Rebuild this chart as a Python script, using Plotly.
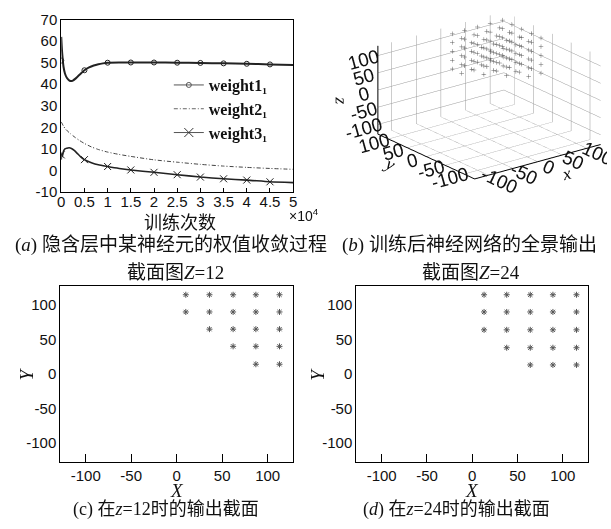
import plotly.graph_objects as go

W, H = 611, 529

# ---------------- data: panel (a) weight convergence ----------------
w1_t = [0, 150, 300, 500, 800, 1200, 1600, 2000, 2500, 3000, 3500, 4000, 5000, 6000, 7000,
        8000, 9000, 10000, 12500, 15000, 20000, 25000, 30000, 35000, 40000, 45000, 50000]
w1_v = [62, 56, 52, 48, 45, 43, 42, 41.5, 41.7, 42.5, 43.5, 44.5, 46.5, 47.8, 48.7,
        49.3, 49.7, 50.0, 50.1, 50.1, 50.1, 50.0, 49.9, 49.7, 49.5, 49.2, 48.9]
w1_mark_t = [0, 5000, 10000, 15000, 20000, 25000, 30000, 35000, 40000, 45000]
w1_mark_v = [51.0, 46.5, 50.0, 50.1, 50.1, 50.0, 49.9, 49.7, 49.5, 49.2]

w2_t = [0, 500, 1000, 2000, 3000, 4000, 5000, 6500, 8000, 10000, 12500, 15000,
        20000, 25000, 30000, 35000, 40000, 45000, 50000]
w2_v = [22.5, 20.5, 19.0, 17.0, 15.3, 13.8, 12.5, 10.9, 9.7, 8.5, 7.4, 6.5,
        4.9, 3.8, 2.8, 2.0, 1.4, 0.9, 0.5]

w3_t = [0, 100, 250, 500, 800, 1200, 1700, 2200, 2800, 3500, 4200, 5000, 6500, 8000,
        10000, 12500, 15000, 20000, 25000, 30000, 35000, 40000, 45000, 50000]
w3_v = [5.0, 8.0, 6.5, 9.0, 10.0, 10.3, 10.5, 10.2, 9.3, 7.8, 6.3, 5.0, 3.6, 2.6,
        1.8, 0.9, 0.2, -0.9, -2.0, -3.1, -3.9, -4.5, -5.3, -5.7]
w3_mark_t = [0, 5000, 10000, 15000, 20000, 25000, 30000, 35000, 40000, 45000]
w3_mark_v = [7.2, 5.0, 1.8, 0.2, -0.9, -2.0, -3.1, -3.9, -4.5, -5.3]

a_xticks = [0, 5000, 10000, 15000, 20000, 25000, 30000, 35000, 40000, 45000, 50000]
a_xlabels = ["0", "0.5", "1", "1.5", "2", "2.5", "3", "3.5", "4", "4.5", "5"]
a_yticks = [-10, 0, 10, 20, 30, 40, 50, 60, 70]
a_ylabels = ["-10", "0", "10", "20", "30", "40", "50", "60", "70"]

# ---------------- data: panel (b) 3-D output ----------------
b_grid = [13, 38, 64, 90, 115]          # x / y grid values
b_rows_y = [115, 90, 64, 38, 13]        # row y values
b_levels = [13, 38, 64, 90, 115]        # z levels
b_row_start = [[0, 0, 1, 2, 3],         # first x-index present in each row, per z level
               [0, 0, 0, 1, 2],
               [0, 0, 0, 0, 1],
               [0, 0, 0, 0, 0],
               [0, 0, 0, 0, 0]]

# ---------------- data: panels (c), (d) cross sections ----------------
c_x = [10, 36, 62, 87, 113, 10, 36, 62, 87, 113, 36, 62, 87, 113, 62, 87, 113, 87, 113]
c_y = [115, 115, 115, 115, 115, 90, 90, 90, 90, 90, 65, 65, 65, 65, 40, 40, 40, 14, 14]
d_x = [13, 38, 64, 89, 115, 13, 38, 64, 89, 115, 13, 38, 64, 89, 115, 38, 64, 89, 115, 64, 89, 115]
d_y = [115, 115, 115, 115, 115, 90, 90, 90, 90, 90, 64, 64, 64, 64, 64, 38, 38, 38, 38, 13, 13, 13]
cd_ticks = [-100, -50, 0, 50, 100]
cd_labels = ["-100", "-50", "0", "50", "100"]

# build 3-D coordinates from the per-level rows
b_x, b_y, b_z = [], [], []
for zi, z in enumerate(b_levels):
    for ri, yv in enumerate(b_rows_y):
        for xv in b_grid[b_row_start[zi][ri]:]:
            b_x.append(xv)
            b_y.append(yv)
            b_z.append(z)

SANS = "Liberation Sans, Arial, sans-serif"
SERIF = "Liberation Serif, Times New Roman, serif"
CAP = "Liberation Serif, Noto Sans CJK SC, serif"
CJK = "Noto Sans CJK SC, sans-serif"
DARK = "#222222"

def fx(p):
    return p / W

def fy(p):
    return 1 - p / H

fig = go.Figure()

# ---- panel (a) ----
fig.add_trace(go.Scatter(x=w1_t, y=w1_v, mode="lines", line=dict(color=DARK, width=2, shape="spline", smoothing=0.6),
                         showlegend=False, xaxis="x", yaxis="y"))
fig.add_trace(go.Scatter(x=w1_mark_t, y=w1_mark_v, mode="markers",
                         marker=dict(symbol="circle-open", size=5, color=DARK, line=dict(width=1)),
                         showlegend=False, xaxis="x", yaxis="y"))
fig.add_trace(go.Scatter(x=w2_t, y=w2_v, mode="lines",
                         line=dict(color="#444444", width=1, dash="4px,2px,1px,2px", shape="spline", smoothing=0.6),
                         showlegend=False, xaxis="x", yaxis="y"))
fig.add_trace(go.Scatter(x=w3_t, y=w3_v, mode="lines", line=dict(color=DARK, width=1.6, shape="spline", smoothing=0.6),
                         showlegend=False, xaxis="x", yaxis="y"))
fig.add_trace(go.Scatter(x=w3_mark_t, y=w3_mark_v, mode="markers",
                         marker=dict(symbol="x-thin-open", size=7, color=DARK, line=dict(width=1, color=DARK)),
                         showlegend=False, xaxis="x", yaxis="y"))
# legend entries
fig.add_trace(go.Scatter(x=[None], y=[None], mode="lines+markers", name="weight1₁",
                         line=dict(color="#555555", width=1),
                         marker=dict(symbol="circle-open", size=5, color="#555555"), xaxis="x", yaxis="y"))
fig.add_trace(go.Scatter(x=[None], y=[None], mode="lines", name="weight2₁",
                         line=dict(color="#666666", width=1, dash="4px,2px,1px,2px"), xaxis="x", yaxis="y"))
fig.add_trace(go.Scatter(x=[None], y=[None], mode="lines+markers", name="weight3₁",
                         line=dict(color="#555555", width=1),
                         marker=dict(symbol="x-thin-open", size=9, color="#333333", line=dict(width=1, color="#333333")),
                         xaxis="x", yaxis="y"))

# ---- panel (b) ----
fig.add_trace(go.Scatter3d(x=b_x, y=b_y, z=b_z, mode="markers",
                           marker=dict(symbol="cross", size=2.5, color="#666666"),
                           showlegend=False, scene="scene"))

# ---- panels (c), (d) ----
fig.add_trace(go.Scatter(x=c_x, y=c_y, mode="markers",
                         marker=dict(symbol="asterisk-open", size=5, color="#555555", line=dict(width=1, color="#555555")),
                         showlegend=False, xaxis="x2", yaxis="y2"))
fig.add_trace(go.Scatter(x=d_x, y=d_y, mode="markers",
                         marker=dict(symbol="asterisk-open", size=5, color="#555555", line=dict(width=1, color="#555555")),
                         showlegend=False, xaxis="x3", yaxis="y3"))

tickf = dict(family=SANS, size=15, color="#111111")

def box_axis(**kw):
    d = dict(showline=True, linecolor="black", linewidth=1, mirror=True, showgrid=False,
             zeroline=False, tickfont=tickf, ticks="inside", tickcolor="black", ticklen=5)
    d.update(kw)
    return d

ax3d = dict(range=[-128, 128], tickvals=cd_ticks, ticktext=cd_labels, showgrid=True, gridcolor="#9a9a9a", gridwidth=1,
            showbackground=False, showline=True, linecolor="black", linewidth=2, zeroline=False,
            showspikes=False, tickfont=dict(family=SANS, size=15, color="#111111"), ticks="", autorange=False)

CX, CY, CZ = -0.23, 0.177, -0.17
fig.update_layout(
    width=W, height=H, margin=dict(l=0, r=0, t=0, b=0),
    paper_bgcolor="white", plot_bgcolor="white",
    xaxis=box_axis(domain=[fx(58), fx(293)], range=[0, 50000], tickvals=a_xticks, ticktext=a_xlabels, anchor="y",
                   ticklen=4, ticklabelstandoff=-4),
    yaxis=box_axis(domain=[fy(189), fy(11)], range=[-10, 70], tickvals=a_yticks, ticktext=a_ylabels, anchor="x", ticks=""),
    xaxis2=box_axis(domain=[fx(57), fx(293)], range=[-128, 128], tickvals=cd_ticks, ticktext=cd_labels, anchor="y2", ticklen=8),
    yaxis2=box_axis(domain=[fy(468), fy(286)], range=[-128, 128], tickvals=cd_ticks, ticktext=cd_labels, anchor="x2", ticks=""),
    xaxis3=box_axis(domain=[fx(357), fx(592)], range=[-128, 128], tickvals=cd_ticks, ticktext=cd_labels, anchor="y3", ticklen=8),
    yaxis3=box_axis(domain=[fy(468), fy(286)], range=[-128, 128], tickvals=cd_ticks, ticktext=cd_labels, anchor="x3", ticks=""),
    scene=dict(
        domain=dict(x=[fx(312), fx(611)], y=[fy(212), fy(0)]),
        xaxis=dict(ax3d, title=dict(text="<i>x</i>", font=dict(family=SERIF, size=18, color="#111111"))),
        yaxis=dict(ax3d, title=dict(text="<i>y</i>", font=dict(family=SERIF, size=18, color="#111111"))),
        zaxis=dict(ax3d, title=dict(text="<i>z</i>", font=dict(family=SERIF, size=18, color="#111111"))),
        aspectmode="manual", aspectratio=dict(x=1.55, y=1.55, z=0.92),
        camera=dict(eye=dict(x=-0.569 * 2 + CX, y=-0.741 * 2 + CY, z=0.356 * 2 + CZ),
                    center=dict(x=CX, y=CY, z=CZ), up=dict(x=0, y=0, z=1),
                    projection=dict(type="orthographic")),
    ),
    legend=dict(x=fx(167), y=fy(61), xanchor="left", yanchor="top", bgcolor="rgba(0,0,0,0)",
                font=dict(family=SERIF, size=16, color="#111111", weight="bold"),
                tracegroupgap=0, itemwidth=30),
)

def ann(text, x, y, size, family=CAP, angle=0, xanchor="center"):
    fig.add_annotation(text=text, x=fx(x), y=fy(y), xref="paper", yref="paper", showarrow=False,
                       xanchor=xanchor, yanchor="middle", textangle=angle,
                       font=dict(family=family, size=size, color="#111111"))

ann("训练次数", 178, 219, 18, family=CJK)
ann("×10<sup>4</sup>", 287, 213, 14, family=SANS, xanchor="left")
ann("(<i>a</i>) 隐含层中某神经元的权值收敛过程", 169, 243.5, 19)
ann("(<i>b</i>) 训练后神经网络的全景输出", 472, 243.5, 19)
ann("截面图<i>Z</i>=12", 173.5, 272.5, 19)
ann("截面图<i>Z</i>=24", 473, 272.5, 19)
ann("<i>X</i>", 175, 498, 19, family=SERIF)
ann("<i>X</i>", 474.5, 498, 19, family=SERIF)
ann("<i>Y</i>", 23, 377, 19, family=SERIF, angle=-90)
ann("<i>Y</i>", 318, 377, 19, family=SERIF, angle=-90)
ann("(c) 在<i>z</i>=12时的输出截面", 164, 517, 18)
ann("(<i>d</i>) 在<i>z</i>=24时的输出截面", 459, 517, 18)

fig.write_html("out.html", config={"displayModeBar": False},
               post_script="document.body.style.margin='0';document.body.style.padding='0';")
